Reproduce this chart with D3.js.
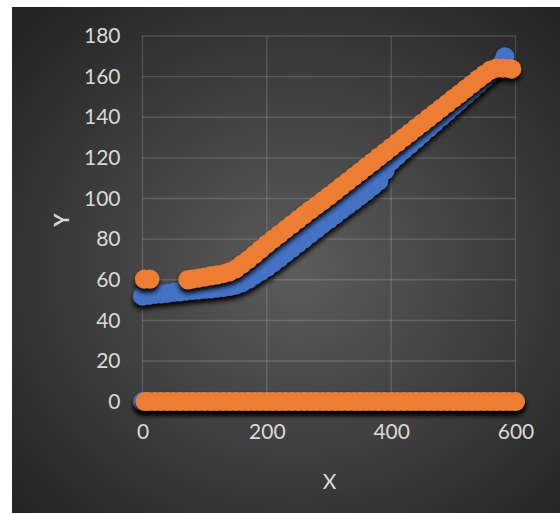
<!DOCTYPE html>
<html>
<head>
<meta charset="utf-8">
<script src="https://cdn.jsdelivr.net/npm/d3@7"></script>
<style>
  html, body { margin: 0; padding: 0; background: #ffffff; }
  svg { display: block; }
  text { font-family: Lato, "Open Sans", sans-serif; fill: #d9d9d9; }
</style>
</head>
<body>
<svg id="chart" width="560" height="514"></svg>
<script>
// Axis ticks
const xTicks = [0, 200, 400, 600];
const yTicks = [0, 20, 40, 60, 80, 100, 120, 140, 160, 180];

// Series 1 (blue): curve points, then the run of zero readings
const blueX = [0, 10, 20, 30, 40, 50, 60, 70, 80, 90, 100, 110, 120, 130, 140, 150, 160, 170, 180, 190,
  200, 210, 220, 230, 240, 250, 260, 270, 280, 290, 300, 310, 320, 330, 340, 350, 360, 370, 380, 390,
  400, 410, 420, 430, 440, 450, 460, 470, 480, 490, 500, 510, 520, 530, 540, 550, 560, 570, 580, 583];
const blueY = [52.0, 52.4, 52.8, 53.1, 53.4, 53.8, 54.1, 54.4, 54.7, 55.0, 55.3, 55.6, 55.9, 56.2, 56.7, 57.4, 58.5, 60.1, 62.2, 64.0,
  66.0, 68.3, 70.6, 73.0, 75.4, 77.8, 80.2, 82.6, 85.0, 87.4, 89.7, 92.0, 94.3, 96.6, 98.9, 101.2, 103.6, 106.0, 108.6, 113.8,
  118.3, 121.0, 123.8, 126.5, 129.2, 131.9, 134.6, 137.3, 140.0, 142.7, 145.4, 148.1, 150.8, 153.5, 156.2, 158.9, 161.6, 164.4, 167.4, 169.8];
const blueZeroX = [0, 10, 20, 30, 40, 50, 60, 70, 80, 90, 100, 110, 120, 130, 140, 150, 160, 170, 180, 190,
  200, 210, 220, 230, 240, 250, 260, 270, 280, 290, 300, 310, 320, 330, 340, 350, 360, 370, 380, 390,
  400, 410, 420, 430, 440, 450, 460, 470, 480, 490, 500, 510, 520, 530, 540, 550, 560, 570, 580, 590, 600];

// Series 2 (orange): curve points, then the run of zero readings
const orangeX = [3, 12, 73, 80, 90, 100, 110, 120, 130, 140, 150, 160, 170, 180, 190,
  200, 210, 220, 230, 240, 250, 260, 270, 280, 290, 300, 310, 320, 330, 340, 350, 360, 370, 380, 390,
  400, 410, 420, 430, 440, 450, 460, 470, 480, 490, 500, 510, 520, 530, 540, 550, 560, 570, 580, 590, 594];
const orangeY = [60.3, 60.3, 60.0, 60.4, 60.9, 61.4, 61.9, 62.4, 63.0, 63.9, 65.4, 67.6, 69.9, 72.4, 75.0,
  77.6, 80.0, 82.4, 84.8, 87.2, 89.6, 92.0, 94.3, 96.6, 98.9, 101.2, 103.6, 106.0, 108.4, 110.8, 113.2, 115.6, 118.0, 120.4, 122.8,
  125.2, 127.6, 130.0, 132.4, 134.8, 137.2, 139.6, 142.0, 144.4, 146.8, 149.2, 151.6, 154.0, 156.4, 158.8, 161.2, 163.3, 164.3, 164.2, 164.0, 163.8];
const orangeZeroX = [4, 10, 20, 30, 40, 50, 60, 70, 80, 90, 100, 110, 120, 130, 140, 150, 160, 170, 180, 190,
  200, 210, 220, 230, 240, 250, 260, 270, 280, 290, 300, 310, 320, 330, 340, 350, 360, 370, 380, 390,
  400, 410, 420, 430, 440, 450, 460, 470, 480, 490, 500, 510, 520, 530, 540, 550, 560, 570, 580, 590, 600];

const svg = d3.select("#chart");
const W = 560, H = 514;
const plot = { left: 142.5, right: 515.5, top: 36, bottom: 401.6 };

const defs = svg.append("defs");
const grad = defs.append("radialGradient")
  .attr("id", "bg").attr("cx", "52%").attr("cy", "52%").attr("r", "68%");
grad.append("stop").attr("offset", "0%").attr("stop-color", "#5c5c5c");
grad.append("stop").attr("offset", "100%").attr("stop-color", "#252525");

const shadow = defs.append("filter").attr("id", "shadow")
  .attr("x", "-10%").attr("y", "-10%").attr("width", "120%").attr("height", "130%");
shadow.append("feDropShadow").attr("dx", 0).attr("dy", 4).attr("stdDeviation", 2.6)
  .attr("flood-color", "#000").attr("flood-opacity", 1);

// Chart area
svg.append("rect").attr("x", 12).attr("y", 7).attr("width", W - 12).attr("height", H - 8)
  .attr("fill", "url(#bg)");

const x = d3.scaleLinear().domain([0, 600]).range([plot.left, plot.right]);
const y = d3.scaleLinear().domain([0, 180]).range([plot.bottom, plot.top]);

// Gridlines
const gridColor = "rgba(255,255,255,0.16)";
svg.append("g").selectAll("line").data(yTicks).join("line")
  .attr("x1", plot.left).attr("x2", plot.right)
  .attr("y1", d => y(d)).attr("y2", d => y(d))
  .attr("stroke", gridColor).attr("stroke-width", 1.3);
svg.append("g").selectAll("line").data(xTicks).join("line")
  .attr("y1", plot.top).attr("y2", plot.bottom)
  .attr("x1", d => x(d)).attr("x2", d => x(d))
  .attr("stroke", gridColor).attr("stroke-width", 1.3);

// Axes (labels only)
const yAxis = svg.append("g").attr("transform", `translate(${plot.left},0)`)
  .call(d3.axisLeft(y).tickValues(yTicks).tickSize(0).tickPadding(22));
const xAxis = svg.append("g").attr("transform", `translate(0,${plot.bottom})`)
  .call(d3.axisBottom(x).tickValues(xTicks).tickSize(0).tickPadding(22));
[yAxis, xAxis].forEach(a => {
  a.select(".domain").remove();
  a.selectAll("text").attr("font-size", 21).attr("font-family", "Lato, sans-serif").attr("fill", "#d9d9d9");
});

// Axis titles
svg.append("text").attr("x", x(300) + 0.5).attr("y", 489).attr("text-anchor", "middle")
  .attr("font-size", 21).text("X");
svg.append("text").attr("transform", "translate(69,220) rotate(-90)").attr("text-anchor", "middle")
  .attr("font-size", 20).attr("font-weight", "bold").text("Y");

// Markers
const R = 9.5;
function series(xs, ys, zeroXs, color) {
  const pts = zeroXs.map(v => [v, 0]).concat(xs.map((v, i) => [v, ys[i]]));
  svg.append("g").attr("filter", "url(#shadow)")
    .selectAll("circle").data(pts).join("circle")
    .attr("cx", d => x(d[0])).attr("cy", d => y(d[1])).attr("r", R)
    .attr("fill", color);
}
series(blueX, blueY, blueZeroX, "#4472c4");
series(orangeX, orangeY, orangeZeroX, "#ed7d31");
</script>
</body>
</html>
